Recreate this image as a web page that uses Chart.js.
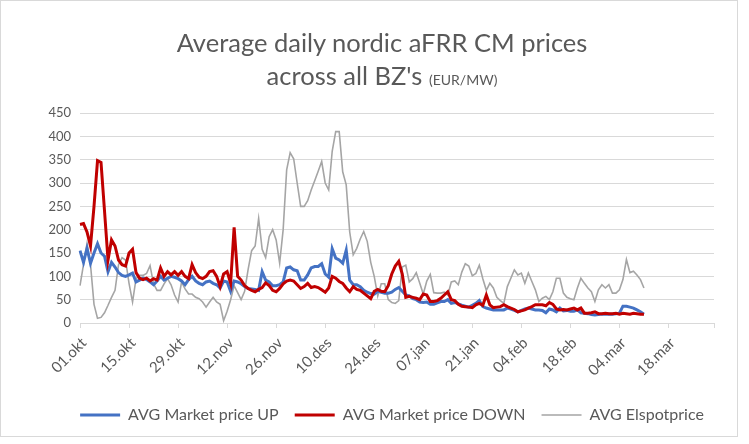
<!DOCTYPE html>
<html>
<head>
<meta charset="utf-8">
<script src="https://cdn.jsdelivr.net/npm/chart.js@4"></script>
<style>
  html, body { margin: 0; padding: 0; background: #ffffff; }
  #wrap { position: relative; width: 749px; height: 444px; }
  #frame { position: absolute; left: 0; top: 0; width: 738px; height: 437px; border: 1px solid #d9d9d9; box-sizing: border-box; pointer-events: none; }
  #title { position: absolute; left: 0; top: 26px; width: 764px; text-align: center; font-family: Lato, "Open Sans", sans-serif; color: #595959; font-size: 25.5px; line-height: 33px; }
  #title small { font-size: 14px; }
  canvas { position: absolute; left: 0; top: 0; }
</style>
</head>
<body>
<div id="wrap">
  <canvas id="c" width="749" height="444"></canvas>
  <div id="title">Average daily nordic aFRR CM prices<br>across all BZ's <small>(EUR/MW)</small></div>
  <div id="frame"></div>
</div>
<script>
// Tick labels shown on the date axis (every 14 days)
const tickLabels = ['01.okt','15.okt','29.okt','12.nov','26.nov','10.des','24.des','07.jan','21.jan','04.feb','18.feb','04.mar','18.mar'];
const monthNames = ['jan','feb','mar','apr','mai','jun','jul','aug','sep','okt','nov','des'];
// Daily categories 01.okt .. 31.mar
const categories = (function () {
  const out = [];
  const d = new Date(2022, 9, 1);
  while (!(d.getMonth() === 3 && d.getDate() === 1)) {
    out.push(String(d.getDate()).padStart(2, '0') + '.' + monthNames[d.getMonth()]);
    d.setDate(d.getDate() + 1);
  }
  return out;
})();

const marketUp = [
  155,130,160,128,150,170,150,143,110,130,
  120,108,102,100,103,107,88,92,96,93,
  88,82,90,100,92,96,100,98,95,90,
  82,93,100,90,85,82,88,90,85,82,
  75,90,88,68,90,88,84,78,74,73,
  72,70,110,92,88,80,80,82,88,118,
  120,114,112,92,92,103,118,121,121,127,
  105,98,159,139,135,128,156,92,82,82,
  78,70,66,63,62,68,66,64,64,66,
  72,76,68,60,58,52,50,45,44,45,
  40,40,43,46,46,50,42,44,41,38,
  36,34,38,42,48,35,32,30,28,28,
  28,28,32,30,27,24,27,30,32,30,
  28,28,27,22,30,28,24,32,26,27,
  25,25,28,22,21,20,18,17,18,19,
  19,19,19,20,21,36,36,34,32,28,24,19
];
const marketDown = [
  211,213,195,165,250,348,344,240,135,178,
  165,135,125,122,150,158,108,96,93,96,
  90,95,92,118,100,110,103,110,102,110,
  100,95,125,108,98,95,100,110,112,100,
  78,105,110,85,205,100,92,80,74,70,
  67,72,76,86,80,70,67,74,84,90,
  92,90,82,74,78,85,76,78,76,71,
  66,75,100,96,89,85,75,67,78,72,
  70,64,58,52,68,72,68,67,80,105,
  122,132,105,55,57,55,53,50,62,60,
  46,46,48,53,60,67,50,48,40,36,
  35,34,33,39,42,38,60,39,33,34,
  35,39,35,32,29,24,26,28,32,35,
  39,39,39,37,44,40,30,28,29,28,
  30,32,28,32,21,21,22,24,20,20,
  21,20,20,21,19,21,20,19,21,20,19,19
];
const elspot = [
  80,125,170,125,40,10,12,22,38,55,
  70,125,140,135,85,45,95,102,102,106,
  123,84,70,70,84,95,82,60,45,88,
  73,62,62,55,52,45,34,45,55,45,
  40,5,25,50,80,65,50,68,115,155,
  165,224,158,140,185,200,178,128,200,328,
  365,352,300,250,250,262,285,305,325,346,
  300,285,368,410,410,324,296,195,146,160,
  180,196,175,130,100,58,84,84,50,44,
  42,48,120,124,88,95,108,85,62,90,
  104,65,64,64,66,60,88,90,82,109,
  127,122,101,106,124,95,70,85,75,55,
  48,42,78,96,114,103,107,85,107,89,
  71,46,53,57,50,67,96,96,64,55,
  52,50,75,96,85,75,67,46,71,82,
  75,82,64,64,71,93,136,108,111,103,93,75
];

const FONT = 'Lato, "Open Sans", sans-serif';
const TEXT = '#595959';
const GRID = '#d9d9d9';

// shift the legend block to the right, as in the original
const legendShift = {
  id: 'legendShift',
  afterLayout: function (chart) {
    if (chart.legend) { chart.legend.left += 20; chart.legend.right += 20; }
  }
};

new Chart(document.getElementById('c'), {
  type: 'line',
  data: {
    labels: categories,
    datasets: [
      { label: 'AVG Market price UP', data: marketUp, borderColor: '#4472C4', backgroundColor: '#4472C4', borderWidth: 3, pointRadius: 0, tension: 0, order: 2 },
      { label: 'AVG Market price DOWN', data: marketDown, borderColor: '#C00000', backgroundColor: '#C00000', borderWidth: 3, pointRadius: 0, tension: 0, order: 1 },
      { label: 'AVG Elspotprice', data: elspot, borderColor: '#A5A5A5', backgroundColor: '#A5A5A5', borderWidth: 1.6, pointRadius: 0, tension: 0, order: 3 }
    ]
  },
  plugins: [legendShift],
  options: {
    responsive: false,
    animation: false,
    devicePixelRatio: 1,
    layout: { padding: { left: 30, right: 35, top: 113, bottom: 11 } },
    plugins: {
      title: { display: false },
      tooltip: { enabled: false },
      legend: {
        position: 'bottom',
        labels: {
          usePointStyle: true,
          pointStyle: 'line',
          pointStyleWidth: 40,
          boxHeight: 14,
          color: TEXT,
          font: { family: FONT, size: 16 },
          padding: 16,
          sort: function (a, b) { return a.datasetIndex - b.datasetIndex; }
        }
      }
    },
    scales: {
      x: {
        type: 'category',
        offset: false,
        afterBuildTicks: function (scale) {
          const last = categories.length - 1;
          scale.ticks = scale.ticks.filter(function (t) {
            return tickLabels.indexOf(categories[t.value]) >= 0 || t.value === last;
          });
        },
        afterFit: function (scale) { scale.height = 68; },
        ticks: {
          autoSkip: false,
          minRotation: 45,
          maxRotation: 45,
          labelOffset: 4,
          color: TEXT,
          font: { family: FONT, size: 15 },
          padding: 6,
          callback: function (value) {
            const l = categories[value];
            return tickLabels.indexOf(l) >= 0 ? l : '';
          }
        },
        grid: { drawOnChartArea: false, drawTicks: true, tickLength: 5, color: GRID },
        border: { color: GRID, width: 1 }
      },
      y: {
        min: 0,
        max: 450,
        afterFit: function (scale) { scale.width = 50; },
        ticks: { stepSize: 50, color: TEXT, font: { family: FONT, size: 13 }, padding: 9 },
        grid: { color: GRID, drawTicks: false, lineWidth: 1 },
        border: { display: false }
      }
    }
  }
});
</script>
</body>
</html>
